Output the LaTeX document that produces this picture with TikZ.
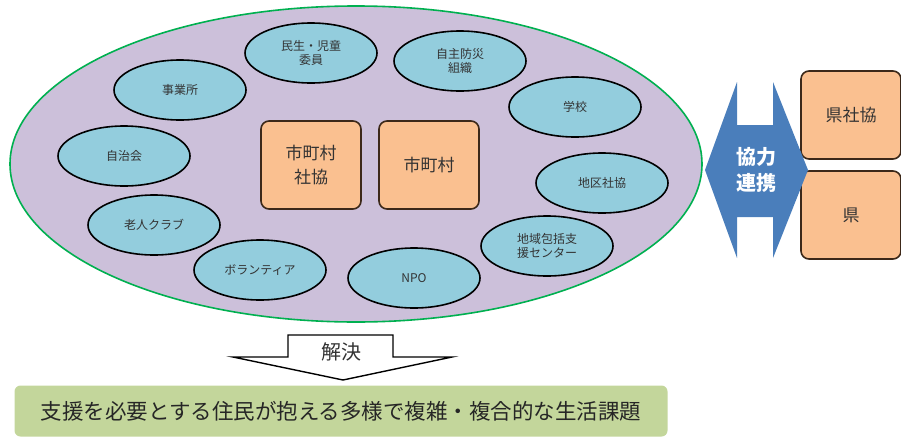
\documentclass[tikz,border=0pt]{standalone}
\usepackage{fontspec}
\setmainfont{Noto Sans CJK JP}
\usetikzlibrary{shapes.geometric}

\definecolor{areafill}{RGB}{204,192,218}
\definecolor{arealine}{RGB}{0,176,80}
\definecolor{groupfill}{RGB}{147,205,221}
\definecolor{bodyfill}{RGB}{250,192,144}
\definecolor{bodyline}{RGB}{60,40,25}
\definecolor{linkfill}{RGB}{74,126,187}
\definecolor{issuefill}{RGB}{195,214,155}

\tikzset{every picture/.style={line width=0.75pt}}
\tikzset{
  group/.style={ellipse, draw=black, line width=1.6pt, fill=groupfill,
    minimum width=132pt, minimum height=60pt, inner sep=0pt, align=center,
    font=\fontsize{12}{14}\selectfont, text=black!80},
  body/.style={draw=bodyline, line width=1.6pt, fill=bodyfill, rounded corners=8pt,
    minimum width=100pt, minimum height=88pt, align=center,
    font=\fontsize{17}{24}\selectfont, text=black!80},
}

\begin{document}
\begin{tikzpicture}[x=1pt,y=1pt,yscale=-1,xscale=1]
\useasboundingbox (0,0) rectangle (901,439);

%Shape: Ellipse
\node [ellipse, draw=arealine, line width=1.6pt, fill=areafill, minimum width=692pt, minimum height=316pt] (area) at (356,164) {};

%Shape: Ellipse
\node [group] (minsei) at (311,53) {民生・児童\\委員};
\node [group] (bousai) at (460,61) {自主防災\\組織};
\node [group] (jigyo) at (180,90) {事業所};
\node [group] (gakko) at (575,107) {学校};
\node [group] (jichi) at (124,156) {自治会};
\node [group] (chiku) at (602,183) {地区社協};
\node [group] (rojin) at (154,225) {老人クラブ};
\node [group] (hokatsu) at (547,246) {地域包括支\\援センター};
\node [group] (volunteer) at (260,270) {ボランティア};
\node [group] (npo) at (414,278) {NPO};

%Shape: Rounded Rect
\node [body] (shakyo) at (311,165) {市町村\\社協};
\node [body] (shichoson) at (429,165) {市町村};
\node [body] (kenshakyo) at (851,115) {県社協};
\node [body] (ken) at (851,215) {県};

%Shape: Left Right Arrow
\draw [draw=none, fill=linkfill] (705,170) -- (737,82) -- (737,125) -- (773,125) -- (773,82) -- (808,170) -- (773,258) -- (773,217) -- (737,217) -- (737,258) -- cycle ;
% Text Node
\node [align=center, text=white, font=\bfseries\fontsize{20}{26}\selectfont] (renkei) at (756,170) {協力\\連携};

%Shape: Down Arrow
\draw [line width=1.4pt, fill=white, line join=miter] (288,335) -- (393,335) -- (393,357) -- (452,357) -- (343,380) -- (233,357) -- (288,357) -- cycle ;
% Text Node
\node [font=\fontsize{20}{24}\selectfont, text=black!80] (kaiketsu) at (341,352) {解決};

%Shape: Rounded Rect
\node [fill=issuefill, rounded corners=6pt, minimum width=653pt, minimum height=51pt, font=\fontsize{21.5}{26}\selectfont, text=black!85] (issue) at (341,411) {支援を必要とする住民が抱える多様で複雑・複合的な生活課題};
\end{tikzpicture}
\end{document}
